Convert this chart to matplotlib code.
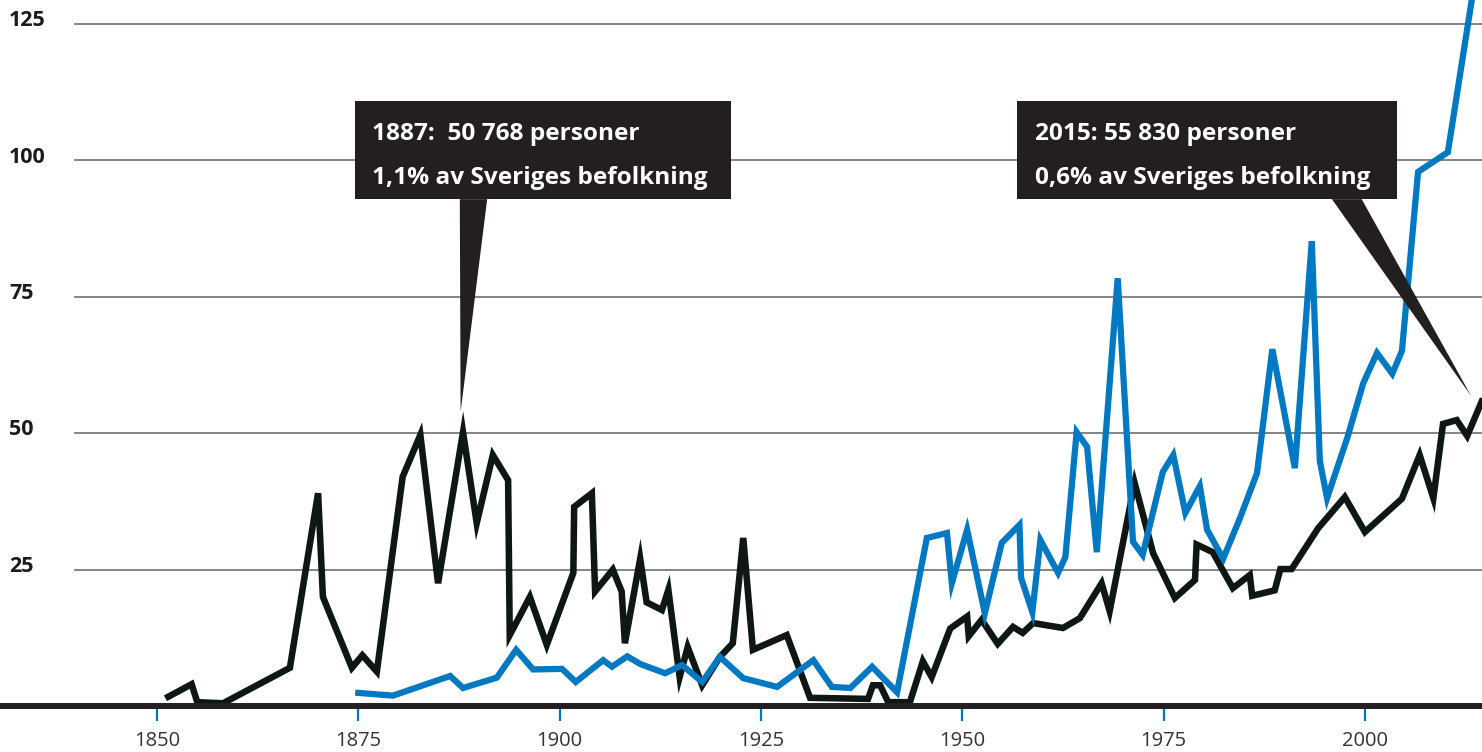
import numpy as np
import matplotlib.pyplot as plt
from matplotlib.patches import Rectangle, Polygon
from matplotlib.transforms import blended_transform_factory

plt.rcParams['font.family'] = ['Open Sans', 'DejaVu Sans']

# emigration (black) and immigration (blue), thousands of persons
black_years = [1851.4, 1854.3, 1855.0, 1858.2, 1866.5, 1870.0, 1870.6, 1874.2, 1875.5, 1877.3,
               1880.5, 1882.7, 1884.9, 1888.0, 1889.7, 1891.7, 1893.6, 1893.8, 1896.3, 1898.4,
               1901.7, 1901.8, 1904.0, 1904.4, 1906.6, 1907.7, 1908.1, 1910.0, 1910.8, 1912.7,
               1913.5, 1914.9, 1915.9, 1917.7, 1919.9, 1921.5, 1922.8, 1924.0, 1928.2, 1931.1,
               1938.3, 1938.9, 1939.8, 1940.8, 1943.5, 1945.1, 1946.2, 1948.5, 1950.6, 1950.8,
               1952.4, 1954.4, 1956.3, 1957.5, 1958.8, 1962.5, 1964.6, 1967.3, 1968.3, 1971.4,
               1973.7, 1976.4, 1978.9, 1979.1, 1981.1, 1983.6, 1985.7, 1986.0, 1988.8, 1989.5,
               1990.9, 1994.2, 1997.5, 2000.0, 2004.6, 2006.8, 2008.5, 2009.7, 2011.4, 2012.7,
               2014.5]
black_vals = [1.7, 4.0, 0.7, 0.5, 7.0, 39.0, 20.0, 7.0, 9.3, 6.3,
              42.0, 49.7, 22.5, 50.2, 33.5, 46.0, 41.4, 13.0, 20.0, 11.2,
              24.4, 36.5, 39.0, 21.0, 25.0, 21.0, 11.5, 27.0, 19.0, 17.6,
              21.3, 5.3, 10.8, 3.8, 9.0, 11.5, 30.8, 10.3, 13.0, 1.5,
              1.3, 3.8, 3.8, 0.7, 0.7, 8.2, 5.3, 14.2, 16.4, 12.8,
              15.8, 11.4, 14.5, 13.4, 15.2, 14.3, 16.1, 22.5, 17.4, 40.9,
              28.0, 19.8, 23.1, 29.6, 28.2, 21.6, 24.0, 20.2, 21.2, 25.1,
              25.1, 32.6, 38.3, 31.9, 38.0, 46.0, 38.1, 51.7, 52.4, 49.5,
              55.8]

blue_years = [1875.0, 1879.3, 1886.4, 1888.0, 1892.2, 1894.6, 1896.7, 1900.3, 1902.0, 1905.4,
              1906.5, 1908.4, 1910.0, 1913.1, 1915.2, 1917.7, 1919.9, 1922.8, 1927.0, 1931.5,
              1933.8, 1936.1, 1938.8, 1941.9, 1945.6, 1948.1, 1948.7, 1950.6, 1952.8, 1954.9,
              1957.1, 1957.3, 1958.7, 1959.7, 1961.9, 1962.8, 1964.2, 1965.5, 1966.7, 1969.3,
              1971.2, 1972.4, 1974.9, 1976.2, 1977.7, 1979.5, 1980.4, 1982.4, 1984.5, 1986.6,
              1988.5, 1991.3, 1993.4, 1994.4, 1995.3, 1997.8, 1999.8, 2001.5, 2003.4, 2004.6,
              2006.6, 2010.3, 2014.5]
blue_vals = [2.4, 1.9, 5.5, 3.3, 5.2, 10.3, 6.7, 6.8, 4.4, 8.4,
             7.2, 9.1, 7.7, 6.0, 7.5, 4.4, 9.0, 5.1, 3.5, 8.4,
             3.5, 3.3, 7.2, 2.5, 30.8, 31.7, 22.5, 32.3, 17.0, 29.9,
             33.2, 23.5, 17.2, 30.4, 24.4, 27.3, 50.2, 47.5, 28.2, 78.4,
             30.1, 27.7, 42.9, 46.0, 35.4, 40.3, 32.3, 27.0, 34.5, 42.7,
             65.4, 43.6, 85.2, 44.9, 38.1, 49.1, 59.2, 64.7, 60.9, 65.1,
             97.9, 101.5, 141.0]

y_ticks = [25, 50, 75, 100, 125]
x_ticks = [1850, 1875, 1900, 1925, 1950, 1975, 2000]

fig = plt.figure(figsize=(14.82, 7.52), dpi=100)
ax = fig.add_axes([0, 46 / 752, 1, 706 / 752])
ax.set_xlim(1830.5, 2014.54)
ax.set_ylim(0, 129.4)

for v in y_ticks:
    ax.axhline(v, xmin=75 / 1482, color='#6f6f6f', lw=1.2, zorder=1)
ylab = blended_transform_factory(ax.transAxes, ax.transData)
for v in y_ticks:
    ax.text(9 / 1482, v + 0.6, str(v), transform=ylab, ha='left', va='center',
            fontsize=15.5, fontweight='bold', color='#1c1a1a')

ax.plot(black_years, black_vals, color='#0f1715', lw=4.7, solid_joinstyle='miter', zorder=3)
ax.plot(blue_years, blue_vals, color='#0079c2', lw=4.5, solid_joinstyle='miter', zorder=4)

for s in ['top', 'left', 'right']:
    ax.spines[s].set_visible(False)
ax.spines['bottom'].set_linewidth(4.3)
ax.spines['bottom'].set_color('#231f20')
ax.spines['bottom'].set_zorder(6)
ax.set_yticks([])
ax.set_xticks(x_ticks)
ax.tick_params(axis='x', direction='out', length=11, width=1.6, color='#0079c2',
               pad=7, labelsize=14.5, labelcolor='#333333')

# callout boxes
boxes = [
    (1874.6, 1921.3, 1876.7, ["1887:  50 768 personer", "1,1% av Sveriges befolkning"],
     [(1887.6, 92.9), (1891.0, 92.9), (1887.7, 53.9)]),
    (1956.8, 2004.0, 1959.0, ["2015: 55 830 personer", "0,6% av Sveriges befolkning"],
     [(1995.9, 92.9), (1999.6, 92.9), (2013.2, 56.8)]),
]
for x0, x1, tx, lines, tri in boxes:
    ax.add_patch(Rectangle((x0, 92.9), x1 - x0, 18.0, fc='#231f20', ec='none', zorder=7))
    ax.add_patch(Polygon(tri, closed=True, fc='#231f20', ec='none', zorder=7))
    ax.text(tx, 104.9, lines[0], color='white', fontsize=17.6, fontweight='bold',
            va='center', ha='left', zorder=8)
    ax.text(tx, 96.8, lines[1], color='white', fontsize=17.6, fontweight='bold',
            va='center', ha='left', zorder=8)

fig.savefig('out.png', dpi=100)
